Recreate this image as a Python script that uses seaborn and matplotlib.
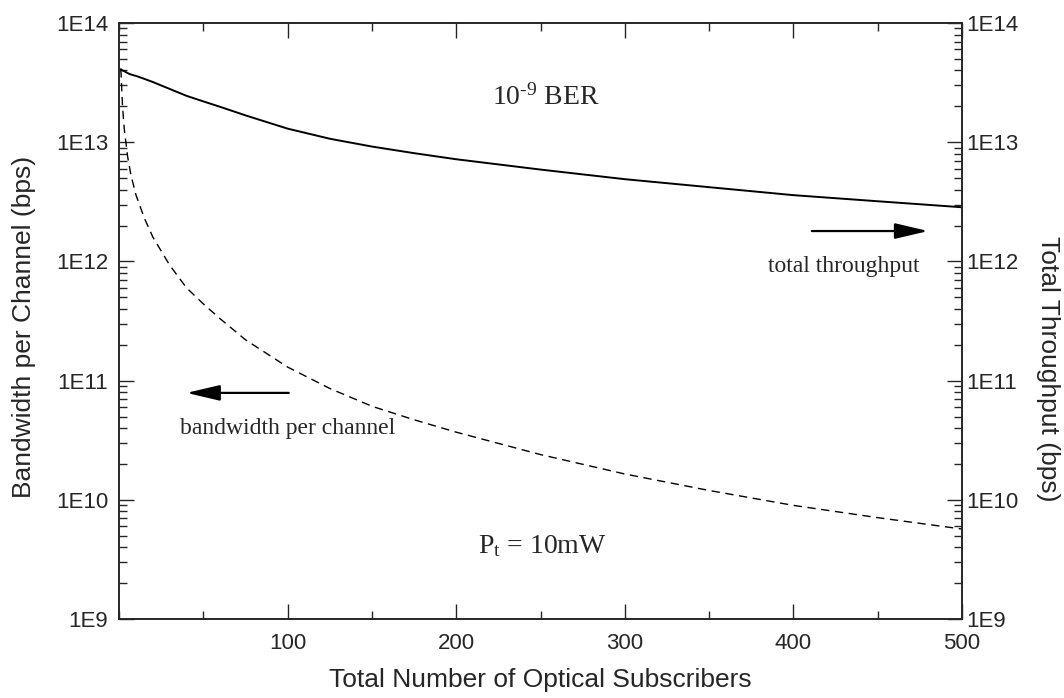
import seaborn as sns
import matplotlib.pyplot as plt
import matplotlib.ticker as ticker
import numpy as np
import pandas as pd

# values
subscribers = [1, 2, 3, 5, 7, 10, 15, 20, 30, 40, 50, 60, 75, 100, 125, 150, 175,
               200, 250, 300, 350, 400, 450, 500]
total_thru = [4.1e13, 4.0e13, 3.95e13, 3.8e13, 3.7e13, 3.6e13, 3.4e13, 3.2e13, 2.8e13,
              2.45e13, 2.2e13, 1.98e13, 1.68e13, 1.3e13, 1.07e13, 9.2e12, 8.1e12,
              7.2e12, 5.9e12, 4.9e12, 4.2e12, 3.6e12, 3.2e12, 2.85e12]
bw_channel = [4.1e13, 2.0e13, 1.3e13, 7.6e12, 5.3e12, 3.6e12, 2.3e12, 1.6e12, 9.3e11,
              6.0e11, 4.4e11, 3.3e11, 2.2e11, 1.3e11, 8.6e10, 6.1e10, 4.7e10,
              3.7e10, 2.4e10, 1.65e10, 1.2e10, 9.0e9, 7.1e9, 5.7e9]

df = pd.DataFrame({'N': subscribers, 'total': total_thru, 'bw': bw_channel})

sns.set_style('ticks')
plt.rcParams['font.family'] = ['Liberation Sans', 'DejaVu Sans']
plt.rcParams['mathtext.fontset'] = 'custom'
plt.rcParams['mathtext.rm'] = 'Liberation Serif'
plt.rcParams['mathtext.it'] = 'Liberation Serif:italic'

fig = plt.figure(figsize=(10.64, 6.98), dpi=100)
ax = fig.add_axes([0.112, 0.113, 0.792, 0.854])

sns.lineplot(data=df, x='N', y='total', color='black', lw=1.4, ax=ax)
sns.lineplot(data=df, x='N', y='bw', color='black', lw=1.0, ax=ax,
             linestyle=(0, (6, 4)))

ax.set_yscale('log')
ax.set_xlim(0, 500)
ax.set_ylim(1e9, 1e14)
ax.set_xticks([100, 200, 300, 400, 500])
ax.xaxis.set_minor_locator(ticker.MultipleLocator(50))
ax.yaxis.set_major_locator(ticker.LogLocator(base=10, numticks=10))
ax.yaxis.set_minor_locator(ticker.LogLocator(base=10, subs=np.arange(2, 10), numticks=10))
fmt = ticker.FuncFormatter(lambda v, p: '1E%d' % round(np.log10(v)))
ax.yaxis.set_major_formatter(fmt)
ax.yaxis.set_minor_formatter(ticker.NullFormatter())

ax.tick_params(which='major', direction='in', length=11, width=1, labelsize=16,
               top=True, pad=8)
ax.tick_params(which='minor', direction='in', length=6, width=1, top=True)
ax.tick_params(axis='x', which='major', pad=10)

ax2 = ax.twinx()
ax2.set_yscale('log')
ax2.set_ylim(1e9, 1e14)
ax2.yaxis.set_major_locator(ticker.LogLocator(base=10, numticks=10))
ax2.yaxis.set_minor_locator(ticker.LogLocator(base=10, subs=np.arange(2, 10), numticks=10))
ax2.yaxis.set_major_formatter(fmt)
ax2.yaxis.set_minor_formatter(ticker.NullFormatter())
ax2.tick_params(which='major', direction='in', length=11, width=1, labelsize=16, pad=3)
ax2.tick_params(which='minor', direction='in', length=6, width=1)
for a in (ax, ax2):
    for s in a.spines.values():
        s.set_linewidth(1.2)

ax.set_xlabel('Total Number of Optical Subscribers', fontsize=19, labelpad=10)
ax.set_ylabel('Bandwidth per Channel (bps)', fontsize=19, va='center')
ax.yaxis.set_label_coords(-0.113, 0.49)
ax2.set_ylabel('Total Throughput (bps)', fontsize=19, rotation=-90, va='center')
ax2.yaxis.set_label_coords(1.102, 0.42)

serif = 'Liberation Serif'
ax.text(253, 2.4e13, r'10$^{\text{-9}}$ BER', fontsize=20, family=serif,
        ha='center', va='center')
ax.text(251, 4.1e9, r'P$_\mathrm{t}$ = 10mW', fontsize=20, family=serif,
        ha='center', va='center')
ax.text(430, 9.1e11, 'total throughput', fontsize=17, family=serif,
        ha='center', va='center')
ax.text(100, 4.0e10, 'bandwidth per channel', fontsize=17, family=serif,
        ha='center', va='center')

arrow = dict(arrowstyle='-|>,head_length=1.7,head_width=0.4', color='black',
             lw=1.6, mutation_scale=12, shrinkA=0, shrinkB=0)
ax.annotate('', xy=(480, 1.8e12), xytext=(411, 1.8e12), arrowprops=arrow)
ax.annotate('', xy=(40, 7.9e10), xytext=(100.6, 7.9e10), arrowprops=arrow)

fig.savefig('out.png', dpi=100)
